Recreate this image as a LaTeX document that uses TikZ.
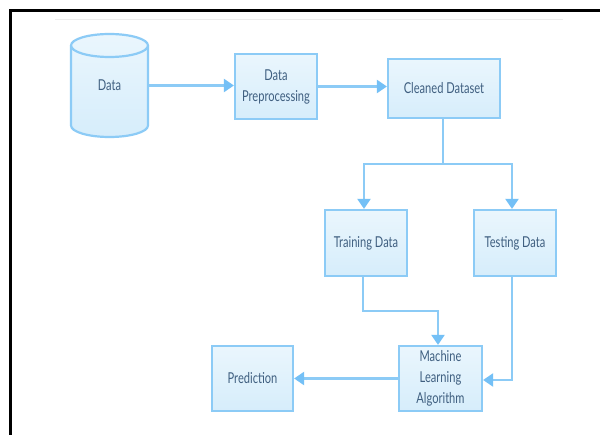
\documentclass[tikz,border=0pt]{standalone}
\usepackage{fontspec}
\setmainfont{Lato}[FakeStretch=0.74]
\usetikzlibrary{arrows.meta}
\definecolor{lb}{HTML}{8CCBF6}
\definecolor{ah}{HTML}{74C0F6}
\definecolor{tx}{HTML}{3F5F80}
\definecolor{ftop}{HTML}{EAF6FD}
\definecolor{fbot}{HTML}{D6EDFB}
\begin{document}
\begin{tikzpicture}[x=1pt,y=-1pt,
  lbl/.style={text=tx, font=\fontsize{15}{21}\selectfont, align=center, inner sep=0pt},
  box/.style={lbl, draw=lb, line width=2.2pt, top color=ftop, bottom color=fbot},
  wire/.style={draw=lb, line width=2.2pt},
  conn/.style={wire, -{Triangle[length=10pt,width=13pt,color=ah]}},
]
\useasboundingbox (0,0) rectangle (600,435);
\fill[white] (0,0) rectangle (600,435);
\draw[line width=3pt] (10,436) -- (10,10.5) -- (601,10.5);
\draw[black!7, line width=1pt] (55,19.5) -- (563,19.5);
% cylinder
\path[draw=lb, line width=2.2pt, top color=ftop, bottom color=fbot]
  (71,45.5) -- (71,125.5) arc[start angle=180,end angle=360,x radius=38.5pt,y radius=11.5pt]
  -- (148,45.5) arc[start angle=0,end angle=180,x radius=38.5pt,y radius=11.5pt] -- cycle;
\draw[lb, line width=2.2pt] (71,45.5) arc[start angle=180,end angle=360,x radius=38.5pt,y radius=11.5pt];
\node[lbl, minimum width=77pt, minimum height=103pt] (data) at (109.5,85.5) {Data};
% boxes
\node[box, minimum width=82pt, minimum height=65pt] (prep) at (276,86.5) {Data\\Preprocessing};
\node[box, minimum width=112pt, minimum height=59pt] (clean) at (444,88.5) {Cleaned Dataset};
\node[box, minimum width=82pt, minimum height=66pt] (train) at (366,243) {Training Data};
\node[box, minimum width=82pt, minimum height=66pt] (test) at (515,243) {Testing Data};
\node[box, minimum width=83pt, minimum height=65pt] (mla) at (440.5,378.5) {Machine\\Learning\\Algorithm};
\node[box, minimum width=81pt, minimum height=65pt] (pred) at (252.5,378.5) {Prediction};
% connectors
\coordinate (split) at (443,164);
\coordinate (tl) at (364,164);
\coordinate (tr) at (512,164);
\coordinate (k1) at (363,311);
\coordinate (k2) at (438,311);
\coordinate (k3) at (512,380);
\draw[conn] (data.east) -- (data.east -| prep.west);
\draw[conn] (prep.east) -- (prep.east -| clean.west);
\draw[wire] (clean.south -| split) -- (split);
\draw[conn] (split) -- (tl) -- (tl |- train.north);
\draw[conn] (split) -- (tr) -- (tr |- test.north);
\draw[conn] (k1 |- train.south) -- (k1) -- (k2) -- (k2 |- mla.north);
\draw[conn] (k3 |- test.south) -- (k3) -- (k3 -| mla.east);
\draw[conn] (mla.west) -- (mla.west -| pred.east);
\end{tikzpicture}
\end{document}
